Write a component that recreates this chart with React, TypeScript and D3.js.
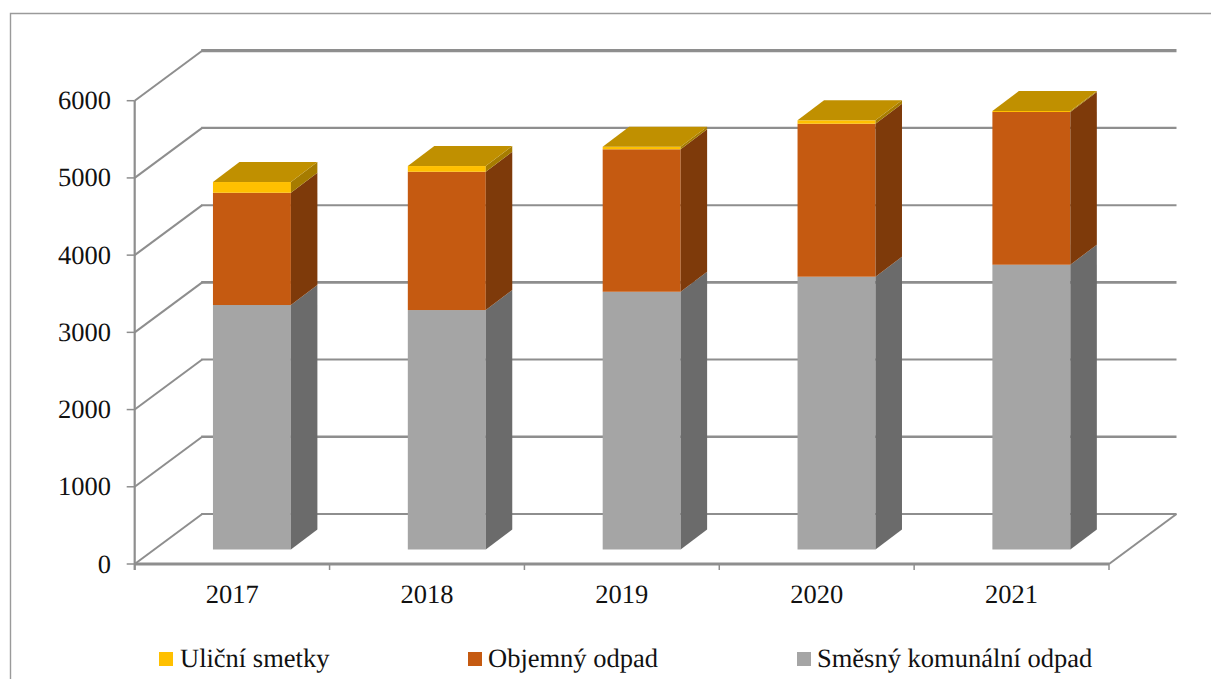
import React from "react";
import * as d3 from "d3";

// Waste collected per year, in tonnes, stacked from the floor upwards.
const years = ["2017", "2018", "2019", "2020", "2021"];
const mixedWaste = [3166, 3101, 3338, 3533, 3688];
const bulkyWaste = [1454, 1791, 1845, 1981, 1978];
const streetSweepings = [139, 74, 33, 44, 13];
const valueTicks = [0, 1000, 2000, 3000, 4000, 5000, 6000];
const gridWidths = [2, 2.6, 2, 2.7, 2, 2.3, 3.2];

const legendLabels = ["Uliční smetky", "Objemný odpad", "Směsný komunální odpad"];
const legendSwatchX = [159, 468, 797];
const legendTextX = [180, 488, 817];

const WIDTH = 1211;
const HEIGHT = 679;
const FONT = "'Liberation Serif', 'Times New Roman', serif";
const AXIS = "#8e8e8e";
const LABEL_SIZE = 26.5;

// Oblique projection of the chart box: how far the back wall sits from the front plane.
const WALL_DX = 67.5;
const WALL_DY = -50;
// Offset of a bar's front face from the front plane, and the depth of the bar itself.
const BAR_DX = 19.8;
const BAR_DY = -14.5;
const DEPTH_DX = 26.5;
const DEPTH_DY = -20;

const layers = [
  { key: "mixed", values: mixedWaste, front: "#a5a5a5", side: "#6b6b6b" },
  { key: "bulky", values: bulkyWaste, front: "#c55a11", side: "#7e3a0a" },
  { key: "street", values: streetSweepings, front: "#ffc000", side: "#a67c00" },
];
const TOP_FILL = "#c09000";
const legendColors = ["#ffc000", "#c55a11", "#a5a5a5"];

const polygon = d3.line<[number, number]>().curve(d3.curveLinearClosed);

export default function App() {
  const x = d3
    .scaleBand<string>()
    .domain(years)
    .range([134.7, 1109])
    .paddingInner(0.6)
    .paddingOuter(0.3);
  const y = d3.scaleLinear().domain([0, 6000]).range([564, 100.7]);
  const step = x.step();
  const x0 = x.range()[0];
  const x1 = x.range()[1];

  return (
    <svg
      width={WIDTH}
      height={HEIGHT}
      viewBox={`0 0 ${WIDTH} ${HEIGHT}`}
      textRendering="geometricPrecision"
      style={{ position: "absolute", left: 0, top: 0, background: "#fff", fontFamily: FONT }}
    >
      {/* Outer chart frame, cropped on the right and at the bottom */}
      <path d={`M10.5 ${HEIGHT} V13.5 H${WIDTH}`} fill="none" stroke="#9a9a9a" strokeWidth={1.4} />

      {/* Gridlines: a slanted stretch on the left wall, then across the back wall */}
      {valueTicks.map((t, i) => (
        <g key={t} fill="none" stroke={AXIS}>
          <line
            x1={x0}
            y1={y(t)}
            x2={x0 + WALL_DX}
            y2={y(t) + WALL_DY}
            strokeWidth={2}
          />
          <line
            x1={x0 + WALL_DX - 1}
            y1={y(t) + WALL_DY}
            x2={x1 + WALL_DX}
            y2={y(t) + WALL_DY}
            strokeWidth={gridWidths[i]}
          />
        </g>
      ))}

      {/* Right edge of the floor */}
      <line
        x1={x1}
        y1={y(0)}
        x2={x1 + WALL_DX}
        y2={y(0) + WALL_DY}
        stroke={AXIS}
        strokeWidth={2}
      />

      {/* Stacked columns */}
      {years.map((year, i) => {
        const left = (x(year) as number) + BAR_DX;
        const right = left + x.bandwidth();
        let base = 0;
        const faces = layers.map((layer) => {
          const start = base;
          base += layer.values[i];
          const bottom = y(start) + BAR_DY;
          const top = y(base) + BAR_DY;
          return (
            <g key={layer.key}>
              <rect x={left} y={top} width={right - left} height={bottom - top} fill={layer.front} />
              <path
                d={
                  polygon([
                    [right, bottom],
                    [right + DEPTH_DX, bottom + DEPTH_DY],
                    [right + DEPTH_DX, top + DEPTH_DY],
                    [right, top],
                  ]) as string
                }
                fill={layer.side}
              />
            </g>
          );
        });
        const crown = y(base) + BAR_DY;
        return (
          <g key={year}>
            {faces}
            <path
              d={
                polygon([
                  [left, crown],
                  [left + DEPTH_DX, crown + DEPTH_DY],
                  [right + DEPTH_DX, crown + DEPTH_DY],
                  [right, crown],
                ]) as string
              }
              fill={TOP_FILL}
            />
          </g>
        );
      })}

      {/* Value axis */}
      <line x1={x0} y1={y(6000)} x2={x0} y2={y(0) + 6} stroke={AXIS} strokeWidth={2.2} />
      {valueTicks.map((t) => (
        <g key={t}>
          <line x1={x0 - 8} y1={y(t)} x2={x0} y2={y(t)} stroke={AXIS} strokeWidth={1.5} />
          <text x={111} y={y(t) + 8.5} textAnchor="end" fontSize={LABEL_SIZE} fill="#111">
            {t}
          </text>
        </g>
      ))}

      {/* Category axis */}
      <line x1={x0} y1={y(0)} x2={x1} y2={y(0)} stroke={AXIS} strokeWidth={2.8} />
      {d3.range(years.length + 1).map((k) => (
        <line
          key={k}
          x1={x0 + k * step}
          y1={y(0)}
          x2={x0 + k * step}
          y2={y(0) + 6}
          stroke={AXIS}
          strokeWidth={1.5}
        />
      ))}
      {years.map((year) => (
        <text
          key={year}
          x={(x(year) as number) + x.bandwidth() / 2}
          y={603}
          textAnchor="middle"
          fontSize={LABEL_SIZE}
          fill="#111"
        >
          {year}
        </text>
      ))}

      {/* Legend */}
      {legendLabels.map((label, i) => (
        <g key={label}>
          <rect x={legendSwatchX[i]} y={652} width={14} height={14} fill={legendColors[i]} />
          <text x={legendTextX[i]} y={667} fontSize={LABEL_SIZE} fill="#111">
            {label}
          </text>
        </g>
      ))}
    </svg>
  );
}
